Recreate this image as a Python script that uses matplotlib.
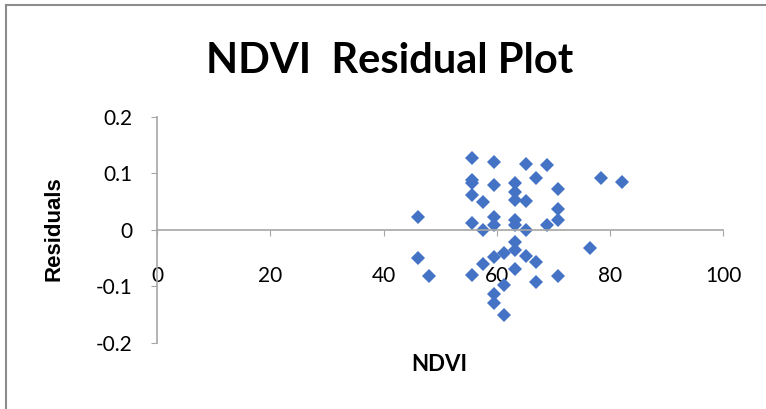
import matplotlib
matplotlib.use("Agg")
import matplotlib.pyplot as plt
from matplotlib.lines import Line2D

# residuals
ndvi = [46.1, 46.1, 48.1,
        55.6, 55.6, 55.6, 55.6, 55.6, 55.6,
        57.5, 57.5, 57.5,
        59.5, 59.5, 59.5, 59.5, 59.5, 59.5, 59.6,
        61.3, 61.3, 61.3,
        63.2, 63.2, 63.2, 63.2, 63.2, 63.2, 63.2, 63.2,
        65.1, 65.1, 65.1, 65.1,
        67.0, 67.0, 67.0,
        68.9, 68.9,
        70.8, 70.8, 70.8, 70.8,
        76.5, 78.4, 82.2]
residuals = [0.023, -0.050, -0.082,
             0.127, 0.088, 0.082, 0.061, 0.011, -0.080,
             0.049, -0.001, -0.060,
             0.119, 0.079, 0.023, 0.008, -0.048, -0.114, -0.130,
             -0.042, -0.097, -0.151,
             0.083, 0.067, 0.052, 0.017, 0.008, -0.022, -0.036, -0.069,
             0.116, 0.051, 0.000, -0.047,
             0.091, -0.057, -0.092,
             0.115, 0.008,
             0.072, 0.037, 0.017, -0.082,
             -0.032, 0.092, 0.084]

x_ticks = [0, 20, 40, 60, 80, 100]
y_ticks = [-0.2, -0.1, 0, 0.1, 0.2]

plt.rcParams['font.family'] = ['Lato', 'DejaVu Sans']

fig = plt.figure(figsize=(7.66, 4.09), dpi=100)
ax = fig.add_axes([0.2054, 0.1621, 0.7385, 0.5526])

ax.plot(ndvi, residuals, 'D', color='#4472C4', markersize=7.4,
        markeredgewidth=0)

grey = '#A6A6A6'
ax.set_xlim(0, 100)
ax.set_ylim(-0.2, 0.2)
ax.spines['top'].set_visible(False)
ax.spines['right'].set_visible(False)
ax.spines['bottom'].set_position(('data', 0))
ax.spines['left'].set_color(grey)
ax.spines['bottom'].set_color(grey)
ax.spines['left'].set_linewidth(1.2)
ax.spines['bottom'].set_linewidth(1.2)

ax.set_xticks(x_ticks)
ax.set_xticklabels([str(t) for t in x_ticks])
ax.set_yticks(y_ticks)
ax.set_yticklabels(['-0.2', '-0.1', '0', '0.1', '0.2'])
ax.tick_params(axis='x', direction='out', length=4, color=grey,
               labelsize=15, pad=22)
ax.tick_params(axis='y', direction='out', length=4, color=grey,
               labelsize=15, pad=14)

fig.text(0.508, 0.852, 'NDVI  Residual Plot', ha='center', va='center',
         fontsize=30, fontweight='bold')
fig.text(0.071, 0.44, 'Residuals', ha='center', va='center',
         rotation=90, fontsize=16, fontweight='bold',
         family=['Liberation Sans', 'DejaVu Sans'])
fig.text(0.574, 0.11, 'NDVI', ha='center', va='center',
         fontsize=16, fontweight='bold')

# chart frame (only top and left edges visible in the reference)
fig.add_artist(Line2D([6 / 766, 6 / 766], [0, 1 - 5 / 409],
                      transform=fig.transFigure, color='#8C8C8C', lw=1.5))
fig.add_artist(Line2D([6 / 766, 1], [1 - 5 / 409, 1 - 5 / 409],
                      transform=fig.transFigure, color='#8C8C8C', lw=1.5))

fig.savefig('out.png', dpi=100)
